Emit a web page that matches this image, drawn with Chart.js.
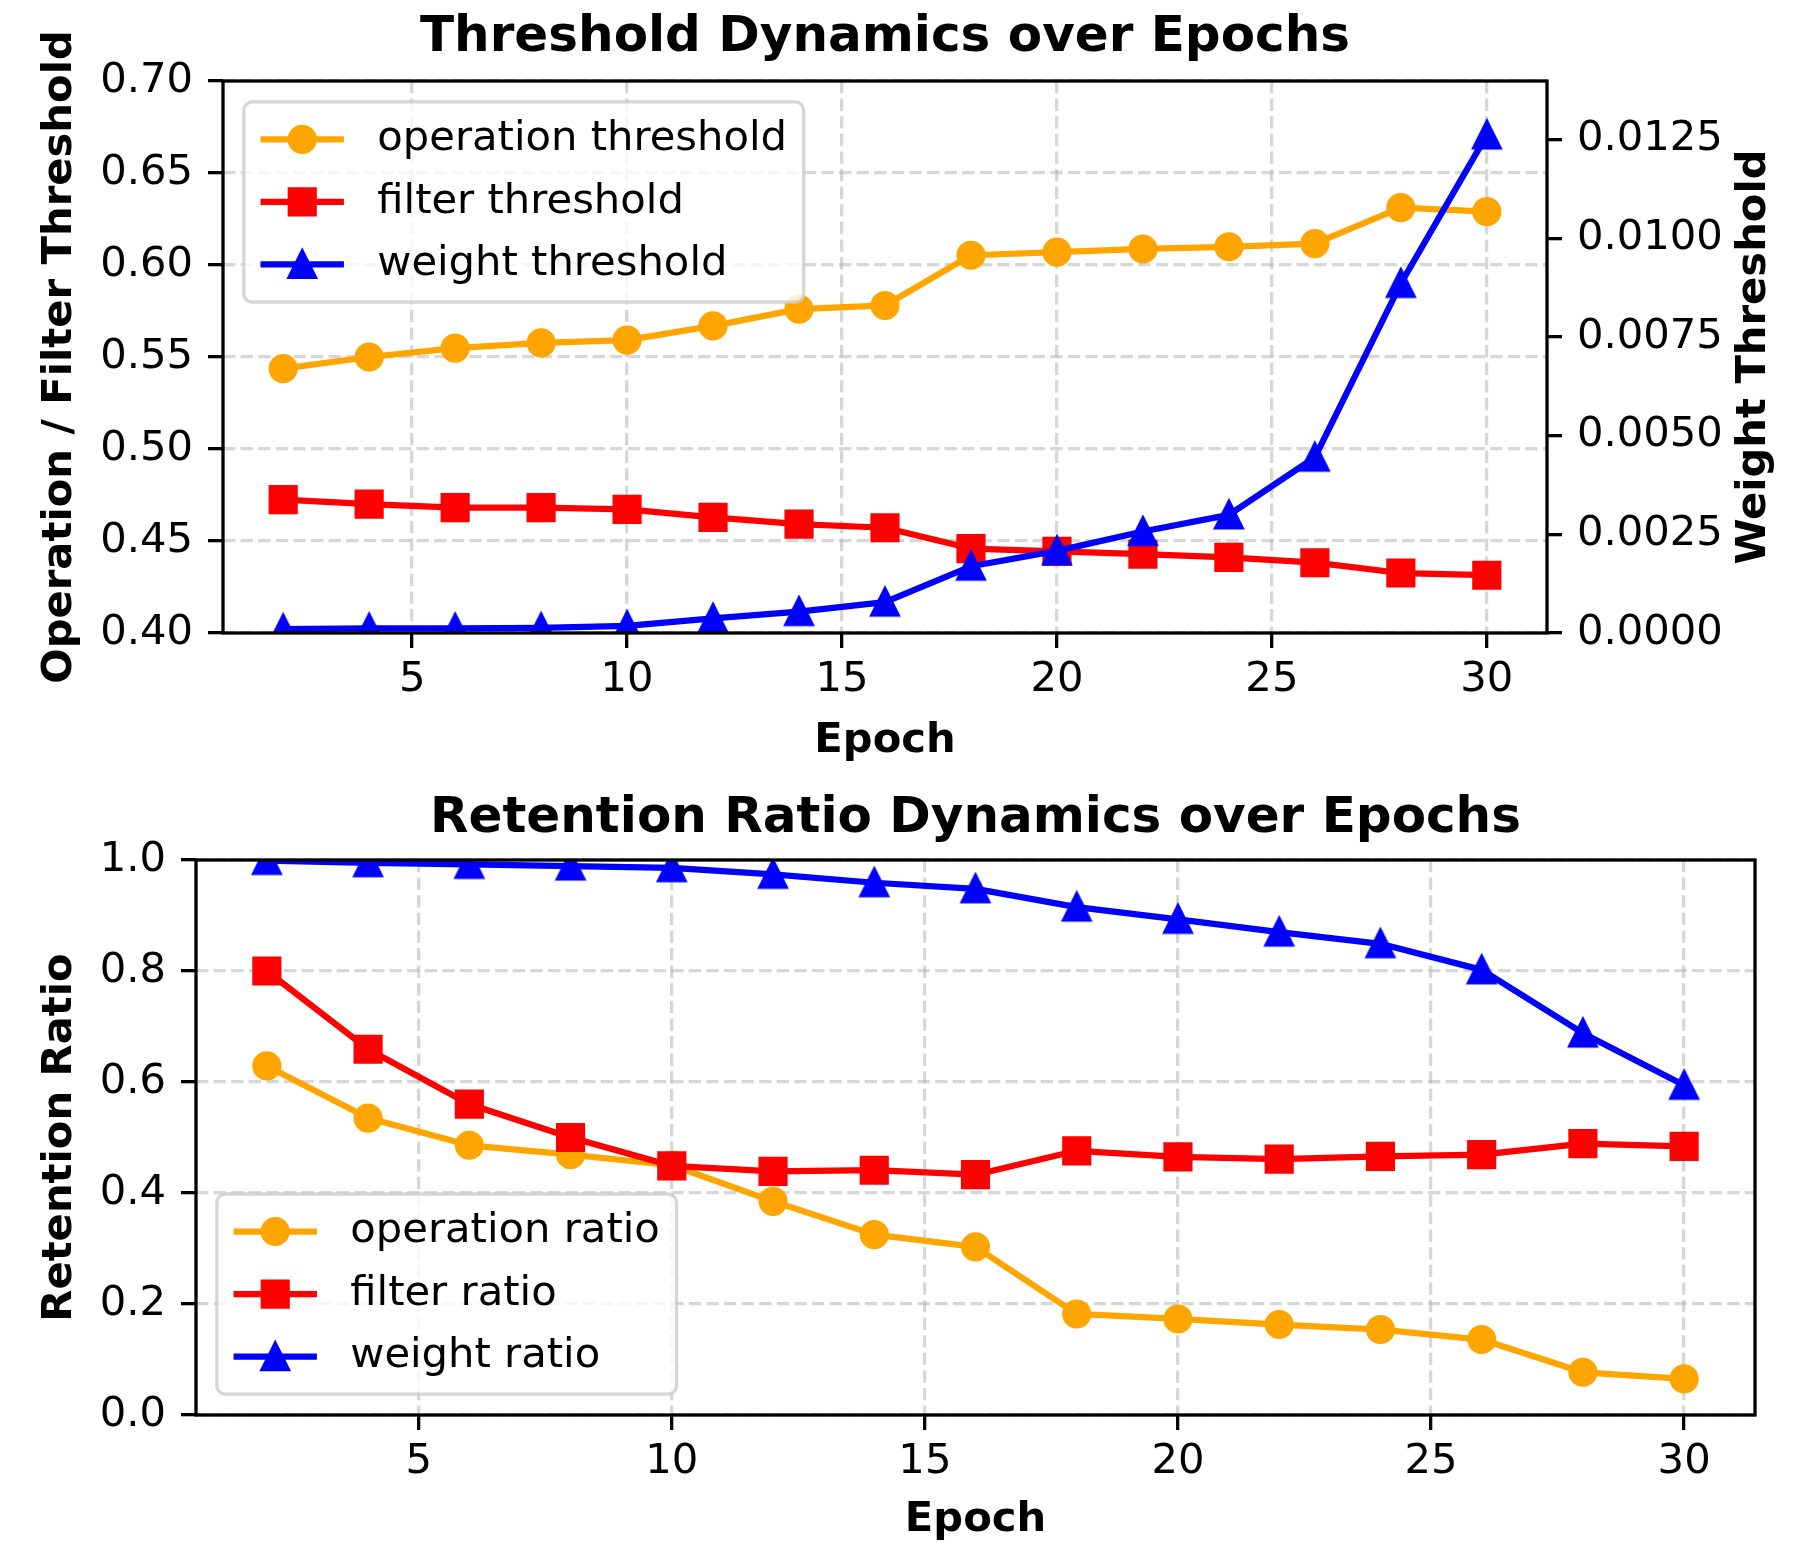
<!DOCTYPE html>
<html>
<head>
<meta charset="utf-8">
<script src="https://cdn.jsdelivr.net/npm/chart.js@4.4.0/dist/chart.umd.min.js"></script>
<style>
  html, body { margin: 0; padding: 0; background: #fff; }
  #wrap { position: relative; width: 1796px; height: 1556px; }
  canvas { position: absolute; left: 0; }
</style>
</head>
<body>
<div id="wrap">
  <canvas id="topChart" width="1796" height="778" style="top:0"></canvas>
  <canvas id="bottomChart" width="1796" height="778" style="top:778px"></canvas>
</div>
<script>
// dados
const epochs = [2, 4, 6, 8, 10, 12, 14, 16, 18, 20, 22, 24, 26, 28, 30];

const opThreshold = [0.5437, 0.5500, 0.5548, 0.5577, 0.5592, 0.5669, 0.5760, 0.5780, 0.6053, 0.6070, 0.6087, 0.6099, 0.6116, 0.6312, 0.6290];
const filterThreshold = [0.4725, 0.4700, 0.4681, 0.4681, 0.4672, 0.4628, 0.4592, 0.4572, 0.4459, 0.4444, 0.4428, 0.4411, 0.4382, 0.4326, 0.4314];
const weightThreshold = [0.00010, 0.00012, 0.00012, 0.00013, 0.00018, 0.00037, 0.00054, 0.00078, 0.00169, 0.00208, 0.00257, 0.00299, 0.00445, 0.00885, 0.01261];

const opRatio = [0.629, 0.535, 0.486, 0.469, 0.450, 0.385, 0.325, 0.303, 0.182, 0.173, 0.163, 0.154, 0.136, 0.077, 0.065];
const filterRatio = [0.800, 0.659, 0.560, 0.500, 0.449, 0.439, 0.441, 0.433, 0.476, 0.465, 0.461, 0.466, 0.469, 0.489, 0.484];
const weightRatio = [0.999, 0.995, 0.992, 0.989, 0.986, 0.974, 0.959, 0.948, 0.915, 0.893, 0.870, 0.849, 0.802, 0.688, 0.594];

const xTicks = [5, 10, 15, 20, 25, 30];
const thresholdTicks = [0.40, 0.45, 0.50, 0.55, 0.60, 0.65, 0.70];
const weightTicks = [0, 0.0025, 0.0050, 0.0075, 0.0100, 0.0125];
const ratioTicks = [0, 0.2, 0.4, 0.6, 0.8, 1.0];

// estilo (300 dpi, fonte 10pt)
const FONT = 'DejaVu Sans';
const FS = 41.7;
const LW = 6.25;
const MS = 25;
const MEW = 4.17;
const GRID = 'rgba(176,176,176,0.5)';
const DASH = [12.3, 5.3];

function drawMarker(ctx, kind, color, x, y) {
    const h = MS / 2;
    ctx.save();
    ctx.fillStyle = color;
    ctx.strokeStyle = color;
    ctx.lineWidth = MEW;
    ctx.lineJoin = 'miter';
    ctx.beginPath();
    if (kind === 'circle') {
        ctx.arc(x, y, h, 0, Math.PI * 2);
    } else if (kind === 'square') {
        ctx.rect(x - h, y - h, MS, MS);
    } else {
        ctx.moveTo(x, y - h);
        ctx.lineTo(x - h, y + h);
        ctx.lineTo(x + h, y + h);
        ctx.closePath();
    }
    ctx.fill();
    ctx.stroke();
    ctx.restore();
}

// triângulo no estilo do matplotlib (centrado na caixa)
function triangleImage(color) {
    const c = document.createElement('canvas');
    c.width = 40; c.height = 40;
    drawMarker(c.getContext('2d'), 'triangle', color, 20, 20);
    return c;
}

function markerOptions(kind, color) {
    if (kind === 'circle') return { pointStyle: 'circle', pointRadius: MS / 2 };
    if (kind === 'square') return { pointStyle: 'rect', pointRadius: MS / Math.SQRT2 };
    return { pointStyle: triangleImage(color), pointRadius: MS / 2 };
}

function series(label, ys, color, kind, axis, order) {
    const m = markerOptions(kind, color);
    return {
        label: label,
        data: epochs.map((x, i) => ({ x: x, y: ys[i] })),
        yAxisID: axis,
        borderColor: color,
        backgroundColor: color,
        borderWidth: LW,
        borderJoinStyle: 'round',
        borderCapStyle: 'butt',
        pointStyle: m.pointStyle,
        pointRadius: m.pointRadius,
        pointBorderWidth: MEW,
        pointBorderColor: color,
        pointBackgroundColor: color,
        tension: 0,
        clip: 0,
        order: order
    };
}

function tickFont() { return { family: FONT, size: FS }; }
function boldFont(size) { return { family: FONT, size: size || FS, weight: 'bold' }; }

function xScale(height, titlePad) {
    return {
        type: 'linear',
        min: 0.6,
        max: 31.4,
        afterBuildTicks: s => { s.ticks = xTicks.map(v => ({ value: v })); },
        afterFit: s => { s.height = height; },
        ticks: { font: tickFont(), color: '#000', padding: 7, maxRotation: 0, autoSkip: false, callback: v => String(v) },
        grid: { color: GRID, lineWidth: 3.3, tickLength: 15, tickColor: '#000', tickWidth: 3.3 },
        border: { display: false, dash: DASH },
        title: { display: true, text: 'Epoch', color: '#000', font: boldFont(), padding: { top: 0, bottom: titlePad } }
    };
}

function yScale(position, width, min, max, ticks, digits, gridOnArea) {
    return {
        type: 'linear',
        position: position,
        min: min,
        max: max,
        afterBuildTicks: s => { s.ticks = ticks.map(v => ({ value: v })); },
        afterFit: s => { s.width = width; },
        ticks: { font: tickFont(), color: '#000', padding: 15, callback: v => v.toFixed(digits) },
        grid: { color: GRID, lineWidth: 3.3, drawOnChartArea: gridOnArea, tickLength: 15, tickColor: '#000', tickWidth: 3.3 },
        border: { display: false, dash: DASH }
    };
}

// moldura dos eixos (spines)
const framePlugin = {
    id: 'frame',
    afterDatasetsDraw(chart) {
        const { ctx, chartArea: a } = chart;
        ctx.save();
        ctx.strokeStyle = '#000';
        ctx.lineWidth = 3.3;
        ctx.strokeRect(a.left, a.top, a.right - a.left, a.bottom - a.top);
        ctx.restore();
    }
};

// legenda no estilo matplotlib
function legendPlugin(entries, corner) {
    return {
        id: 'mplLegend',
        afterDraw(chart) {
            const { ctx, chartArea: a } = chart;
            const pad = 0.4 * FS, gap = 0.5 * FS, hl = 2 * FS, htp = 0.8 * FS, axp = 0.5 * FS;
            ctx.save();
            ctx.font = FS + 'px "' + FONT + '"';
            const textW = Math.max(...entries.map(e => ctx.measureText(e.label).width));
            const w = 2 * pad + hl + htp + textW;
            const h = 2 * pad + entries.length * FS + (entries.length - 1) * gap;
            const left = a.left + axp;
            const top = corner === 'upper left' ? a.top + axp : a.bottom - axp - h;
            ctx.beginPath();
            ctx.roundRect(left, top, w, h, 0.2 * FS);
            ctx.fillStyle = 'rgba(255,255,255,0.8)';
            ctx.fill();
            ctx.lineWidth = 3.3;
            ctx.strokeStyle = 'rgba(204,204,204,0.8)';
            ctx.stroke();
            entries.forEach((e, i) => {
                const y = top + pad + FS / 2 + i * (FS + gap);
                const x0 = left + pad;
                ctx.beginPath();
                ctx.strokeStyle = e.color;
                ctx.lineWidth = LW;
                ctx.moveTo(x0, y);
                ctx.lineTo(x0 + hl, y);
                ctx.stroke();
                drawMarker(ctx, e.kind, e.color, x0 + hl / 2, y);
                ctx.fillStyle = '#000';
                ctx.textAlign = 'left';
                ctx.textBaseline = 'middle';
                ctx.fillText(e.label, x0 + hl + htp, y);
            });
            ctx.restore();
        }
    };
}

// rótulos verticais (lidos de baixo para cima)
function vLabelPlugin(labels) {
    return {
        id: 'vLabels',
        afterDraw(chart) {
            const { ctx, chartArea: a } = chart;
            const yc = (a.top + a.bottom) / 2;
            ctx.save();
            ctx.font = 'bold ' + FS + 'px "' + FONT + '"';
            ctx.fillStyle = '#000';
            ctx.textAlign = 'center';
            ctx.textBaseline = 'middle';
            labels.forEach(l => {
                ctx.save();
                ctx.translate(l.x, yc);
                ctx.rotate(-Math.PI / 2);
                ctx.fillText(l.text, 0, 0);
                ctx.restore();
            });
            ctx.restore();
        }
    };
}

const ORANGE = '#FFA500', RED = '#FF0000', BLUE = '#0000FF';

const baseOptions = {
    responsive: false,
    animation: false,
    devicePixelRatio: 1,
    events: []
};

// gráfico superior: limiares
new Chart(document.getElementById('topChart').getContext('2d'), {
    type: 'line',
    data: {
        datasets: [
            series('operation threshold', opThreshold, ORANGE, 'circle', 'y', 3),
            series('filter threshold', filterThreshold, RED, 'square', 'y', 2),
            series('weight threshold', weightThreshold, BLUE, 'triangle', 'y1', 1)
        ]
    },
    options: Object.assign({}, baseOptions, {
        layout: { padding: 0 },
        scales: {
            x: xScale(145, 12),
            y: yScale('left', 223, 0.40, 0.70, thresholdTicks, 2, true),
            y1: yScale('right', 249, 0, 0.01398, weightTicks, 4, false)
        },
        plugins: {
            legend: { display: false },
            tooltip: { enabled: false },
            title: {
                display: true,
                fullSize: false,
                text: 'Threshold Dynamics over Epochs',
                color: '#000',
                font: boldFont(50),
                padding: { top: 8, bottom: 13 }
            }
        }
    }),
    plugins: [
        framePlugin,
        legendPlugin([
            { label: 'operation threshold', color: ORANGE, kind: 'circle' },
            { label: 'filter threshold', color: RED, kind: 'square' },
            { label: 'weight threshold', color: BLUE, kind: 'triangle' }
        ], 'upper left'),
        vLabelPlugin([
            { text: 'Operation / Filter Threshold', x: 60 },
            { text: 'Weight Threshold', x: 1754 }
        ])
    ]
});

// gráfico inferior: razões de retenção
const ratioY = yScale('left', 196, 0, 1.0, ratioTicks, 1, true);
ratioY.title = { display: true, text: 'Retention Ratio', color: '#000', font: boldFont(), padding: { top: 35, bottom: 0 } };

new Chart(document.getElementById('bottomChart').getContext('2d'), {
    type: 'line',
    data: {
        datasets: [
            series('operation ratio', opRatio, ORANGE, 'circle', 'y', 3),
            series('filter ratio', filterRatio, RED, 'square', 'y', 2),
            series('weight ratio', weightRatio, BLUE, 'triangle', 'y', 1)
        ]
    },
    options: Object.assign({}, baseOptions, {
        layout: { padding: { left: 0, right: 41, top: 0, bottom: 0 } },
        scales: {
            x: xScale(141, 11),
            y: ratioY
        },
        plugins: {
            legend: { display: false },
            tooltip: { enabled: false },
            title: {
                display: true,
                fullSize: false,
                text: 'Retention Ratio Dynamics over Epochs',
                color: '#000',
                font: boldFont(50),
                padding: { top: 11, bottom: 11 }
            }
        }
    }),
    plugins: [
        framePlugin,
        legendPlugin([
            { label: 'operation ratio', color: ORANGE, kind: 'circle' },
            { label: 'filter ratio', color: RED, kind: 'square' },
            { label: 'weight ratio', color: BLUE, kind: 'triangle' }
        ], 'lower left')
    ]
});
</script>
</body>
</html>
